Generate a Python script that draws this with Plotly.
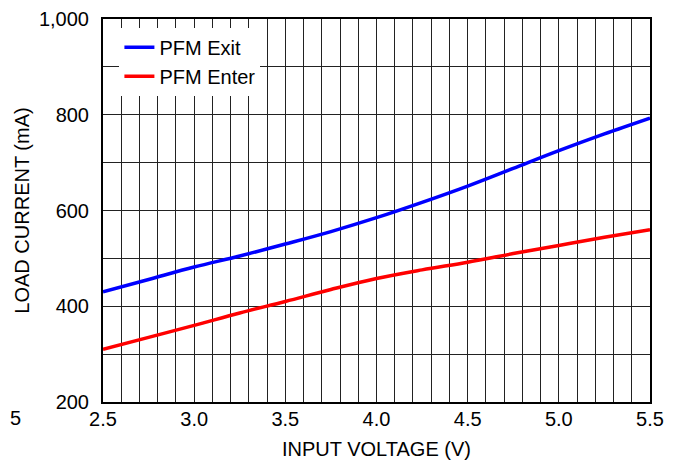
import plotly.graph_objects as go

voltage = [2.5, 2.75, 3.0, 3.25, 3.5, 3.75, 4.0, 4.25, 4.5, 4.75, 5.0, 5.25, 5.5]
pfm_exit = [430, 456, 482, 505, 530, 556, 585, 617, 651, 688, 725, 760, 793]
pfm_enter = [310, 335, 360, 386, 410, 435, 458, 476, 492, 510, 527, 544, 560]

FONT = "Liberation Sans, Arial, sans-serif"

fig = go.Figure()
fig.add_trace(go.Scatter(x=voltage, y=pfm_exit, mode="lines", name="PFM Exit",
                         line=dict(color="#0000ff", width=3.5, shape="spline")))
fig.add_trace(go.Scatter(x=voltage, y=pfm_enter, mode="lines", name="PFM Enter",
                         line=dict(color="#ff0000", width=3.5, shape="spline")))

fig.update_layout(
    width=673, height=454,
    margin=dict(l=95, r=31, t=11, b=60, autoexpand=False),
    paper_bgcolor="white", plot_bgcolor="white",
    font=dict(family=FONT, size=20, color="black"),
    showlegend=True,
    legend=dict(x=0.03, y=0.977, xanchor="left", yanchor="top",
                bgcolor="white", borderwidth=0,
                font=dict(family=FONT, size=20, color="black"),
                itemwidth=30, tracegroupgap=0),
    annotations=[dict(text="5", x=0, y=-0.042, xref="paper", yref="paper",
                      xshift=-95, showarrow=False, xanchor="left", yanchor="middle",
                      font=dict(family=FONT, size=20, color="black"))],
)

fig.update_xaxes(
    range=[2.5, 5.5], tick0=2.5, dtick=0.5, tickformat=".1f",
    showgrid=True, gridcolor="#222222", gridwidth=1,
    minor=dict(dtick=0.1, tick0=2.5, showgrid=True, gridcolor="#222222", gridwidth=1),
    showline=True, linecolor="black", linewidth=2, mirror=True,
    ticks="", ticklabelstandoff=-2, zeroline=False, automargin=False,
    title=dict(text="INPUT VOLTAGE (V)", font=dict(family=FONT, size=20), standoff=13),
)
fig.update_yaxes(
    range=[200, 1000], tick0=200, dtick=200, tickformat=",d",
    showgrid=True, gridcolor="#222222", gridwidth=1,
    minor=dict(dtick=100, tick0=200, showgrid=True, gridcolor="#222222", gridwidth=1),
    showline=True, linecolor="black", linewidth=2, mirror=True,
    ticks="", ticklabelstandoff=8, zeroline=False, automargin=False,
    title=dict(text="LOAD CURRENT (mA)", font=dict(family=FONT, size=20), standoff=4),
)

fig.write_html("out.html")
